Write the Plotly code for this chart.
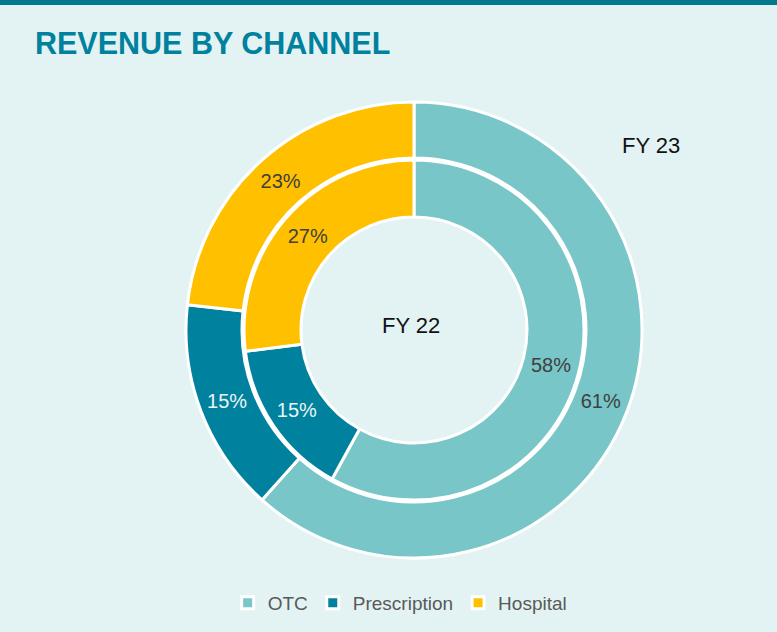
import plotly.graph_objects as go

labels = ["OTC", "Prescription", "Hospital"]
fy23 = [61, 15, 23]
fy22 = [58, 15, 27]
colors = ["#78c6c8", "#00819e", "#ffc000"]
text_colors = ["#404040", "#eaf6f7", "#404040"]

W, H = 777, 632
cx, cy = 414, 330
R_outer, R_mid, R_hole = 228, 172, 113

def dom(r):
    return dict(x=[(cx - r) / W, (cx + r) / W], y=[(H - cy - r) / H, (H - cy + r) / H])

FONT = "Liberation Sans Narrow, Arial Narrow, Liberation Sans, Arial, sans-serif"

fig = go.Figure()
fig.add_trace(go.Pie(
    labels=labels, values=fy23, name="FY 23", sort=False, direction="clockwise", rotation=0,
    hole=R_mid / R_outer, domain=dom(R_outer),
    marker=dict(colors=colors, line=dict(color="white", width=3)),
    texttemplate="%{value}%", textposition="inside", insidetextorientation="horizontal",
    textfont=dict(family=FONT, size=20, color=text_colors), hoverinfo="label+value",
))
fig.add_trace(go.Pie(
    labels=labels, values=fy22, name="FY 22", sort=False, direction="clockwise", rotation=0,
    hole=R_hole / (R_mid - 2), domain=dom(R_mid - 2),
    marker=dict(colors=colors, line=dict(color="white", width=3)),
    texttemplate="%{value}%", textposition="inside", insidetextorientation="horizontal",
    textfont=dict(family=FONT, size=20, color=text_colors), hoverinfo="label+value",
    showlegend=False,
))

fig.update_layout(
    width=W, height=H,
    margin=dict(l=0, r=0, t=0, b=0),
    paper_bgcolor="#e3f3f3", plot_bgcolor="#e3f3f3",
    font=dict(family=FONT, color="#404040"),
    shapes=[dict(type="rect", xref="paper", yref="paper", x0=0, x1=1, y0=1 - 5 / H, y1=1,
                 fillcolor="#007a8c", line=dict(width=0))],
    annotations=[
        dict(text="<b>REVENUE BY CHANNEL</b>", x=33 / W, y=1 - 43 / H, xref="paper", yref="paper",
             xanchor="left", yanchor="middle", showarrow=False,
             font=dict(family=FONT, size=30.5, color="#00819e")),
        dict(text="FY 22", x=411 / W, y=1 - 325 / H, xref="paper", yref="paper",
             xanchor="center", yanchor="middle",
             showarrow=False, font=dict(family=FONT, size=22, color="#111111")),
        dict(text="FY 23", x=651 / W, y=1 - 145 / H, xref="paper", yref="paper",
             xanchor="center", yanchor="middle",
             showarrow=False, font=dict(family=FONT, size=22, color="#111111")),
    ],
    legend=dict(orientation="h", x=0.515, xanchor="center", y=29 / H, yanchor="middle",
                font=dict(family=FONT, size=19, color="#595959"), bgcolor="rgba(0,0,0,0)"),
)

fig.write_html("out.html", config={"displayModeBar": False},
               post_script="document.body.style.margin='0';")
